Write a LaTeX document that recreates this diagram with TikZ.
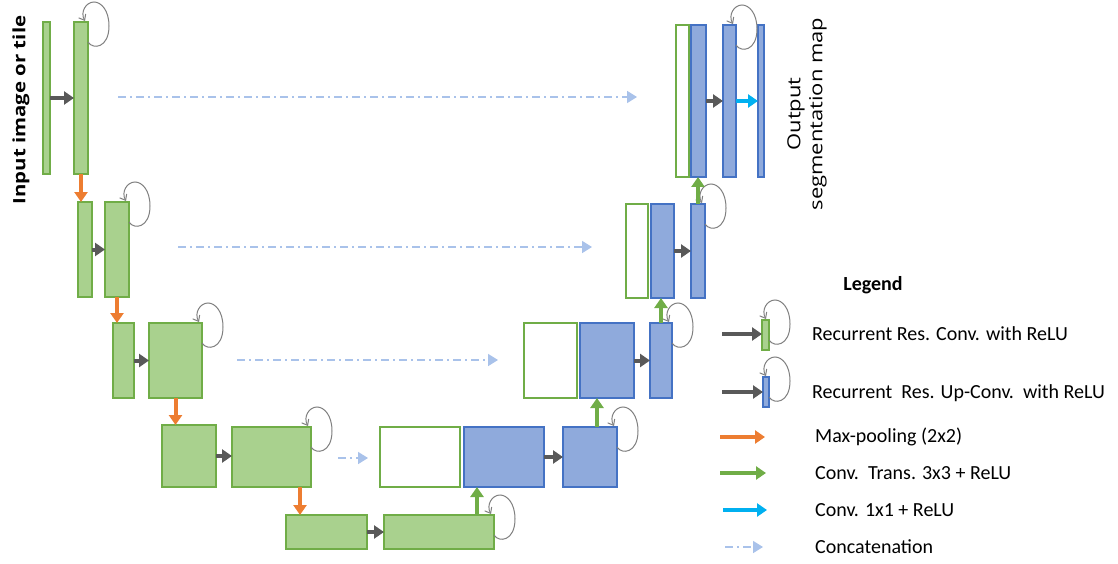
\documentclass[tikz,border=0pt]{standalone}
\usepackage{fontspec}
\setmainfont{Carlito}
\newfontfamily\sidefont{Open Sans}
\usetikzlibrary{arrows.meta,fit,calc}

\definecolor{encfill}{HTML}{A9D18E}
\definecolor{encline}{HTML}{70AD47}
\definecolor{decfill}{HTML}{8FAADC}
\definecolor{decline}{HTML}{4472C4}
\definecolor{convgray}{HTML}{595959}
\definecolor{loopgray}{HTML}{7F7F7F}
\definecolor{poolorange}{HTML}{ED7D31}
\definecolor{transgreen}{HTML}{70AD47}
\definecolor{onecyan}{HTML}{00B0F0}
\definecolor{skipblue}{HTML}{A9C2EA}

% block given by its two corners
\newcommand\blk[6]{\node[#1,fit={(#3,#4) (#5,#6)}] (#2) {};}

\begin{document}
\begin{tikzpicture}[x=1pt,y=-1pt,
  blockbase/.style={inner sep=0pt,outer sep=0pt,line width=1.6pt},
  enc/.style={blockbase,draw=encline,fill=encfill},
  dec/.style={blockbase,draw=decline,fill=decfill},
  skip/.style={blockbase,draw=encline,fill=white},
  thickarrow/.style={line width=4pt,-{Triangle[length=10pt,width=13pt]}},
  convarrow/.style={thickarrow,draw=convgray},
  poolarrow/.style={thickarrow,draw=poolorange},
  uparrow/.style={thickarrow,draw=transgreen},
  onearrow/.style={thickarrow,draw=onecyan},
  concat/.style={draw=skipblue,line width=1.6pt,
    dash pattern=on 8pt off 4pt on 2pt off 4pt,
    -{Triangle[length=10pt,width=12pt,fill=skipblue]}},
  loopline/.style={draw=loopgray,line width=1pt,-{Straight Barb[length=5pt,width=8pt]}},
  selfloop/.pic={\draw[loopline] (0,20) .. controls (5,28) and (21,26) .. (21,4)
      .. controls (21,-12) and (13,-20) .. (6,-20)
      .. controls (-2,-20) and (-8,-10) .. (-3,-1);},
  legtext/.style={anchor=west,font=\fontsize{20}{24}\selectfont,inner sep=0pt}
]
\useasboundingbox (0,0) rectangle (1118,564);

% contracting path
\blk{enc}{in}{43}{22}{50}{174}
\blk{enc}{e1}{74}{22}{88}{174}
\blk{enc}{e2a}{78}{202}{92}{297}
\blk{enc}{e2b}{105}{202}{129}{297}
\blk{enc}{e3a}{113}{323}{134}{398}
\blk{enc}{e3b}{149}{323}{202}{398}
\blk{enc}{e4a}{162}{425}{216}{487}
\blk{enc}{e4b}{232}{427}{311}{487}
\blk{enc}{e5a}{286}{515}{367}{549}
\blk{enc}{e5b}{384}{515}{494}{549}

% expanding path
\blk{skip}{d4w}{380}{427}{460}{487}
\blk{dec}{d4b}{464}{427}{544}{487}
\blk{dec}{d4c}{563}{427}{617}{487}
\blk{skip}{d3w}{524}{323}{577}{398}
\blk{dec}{d3b}{580}{323}{634}{398}
\blk{dec}{d3c}{650}{323}{672}{398}
\blk{skip}{d2w}{626}{204}{648}{298}
\blk{dec}{d2b}{651}{204}{674}{298}
\blk{dec}{d2c}{691}{204}{705}{298}
\blk{skip}{d1w}{676}{25}{689}{177}
\blk{dec}{d1b}{691}{25}{706}{177}
\blk{dec}{d1c}{723}{25}{736}{177}
\blk{dec}{out}{758}{25}{764}{177}

% recurrent convolutions
\foreach \a/\b in {in/e1,e2a/e2b,e3a/e3b,e4a/e4b,e5a/e5b,d4b/d4c,d3b/d3c,d2b/d2c,d1b/d1c}
  \draw[convarrow] (\a.east) -- (\a.east -| \b.west);
\draw[onearrow] (d1c.east) -- (d1c.east -| out.west);

% self loops
\foreach \n in {e1,e2b,e3b,e4b,e5b,d4c,d3c,d2c,d1c}
  \pic at (\n.north east) {selfloop};

% max-pooling
\draw[poolarrow] (e1.south) -- (e1.south |- e2a.north);
\draw[poolarrow] (e2b.south) -- (e2b.south |- e3a.north);
\draw[poolarrow] (e3b.south) -- (e3b.south |- e4a.north);
\coordinate (p4) at ($(e4b.south east)+(-11,0)$);
\draw[poolarrow] (p4) -- (p4 |- e5a.north);

% transposed convolutions
\coordinate (u5) at ($(e5b.north east)+(-17,0)$);
\draw[uparrow] (u5) -- (u5 |- d4b.south);
\coordinate (u4) at ($(d4c.north)+(7,0)$);
\draw[uparrow] (u4) -- (u4 |- d3b.south);
\draw[uparrow] (d3c.north) -- (d3c.north |- d2b.south);
\draw[uparrow] (d2c.north) -- (d2c.north |- d1b.south);

% skip connections
\coordinate (s1a) at (118,97);  \coordinate (s1b) at (637,97);
\coordinate (s2a) at (178,247); \coordinate (s2b) at (592,247);
\coordinate (s3a) at (237,360); \coordinate (s3b) at (498,360);
\coordinate (s4a) at (338,458); \coordinate (s4b) at (368,458);
\foreach \i in {1,2,3,4}
  \draw[concat] (s\i a) -- (s\i b);

% side labels
\node[rotate=90,font=\sidefont\bfseries\fontsize{17}{20}\selectfont,inner sep=0pt] (intext) at (21,110)
  {\scalebox{1.2}[1]{Input image or tile}};
\node[rotate=90,align=center,font=\sidefont\fontsize{18}{22}\selectfont,inner sep=0pt] (outtext) at (807,114)
  {\scalebox{1.22}[1]{Output}\\\scalebox{1.22}[1]{segmentation map}};

% legend
\node[font=\bfseries\fontsize{20}{24}\selectfont] (legtitle) at (873,285) {Legend};

\blk{enc}{lg1}{762}{320}{769}{350}
\coordinate (l1s) at (722,334);
\draw[convarrow] (l1s) -- (l1s -| lg1.west);
\pic at (lg1.north east) {selfloop};
\node[legtext] (t1) at (812,334) {Recurrent Res. Conv. with ReLU};

\blk{dec}{lg2}{763}{377}{769}{407}
\coordinate (l2s) at (722,392);
\draw[convarrow] (l2s) -- (l2s -| lg2.west);
\pic at (lg2.north east) {selfloop};
\node[legtext] (t2) at (812,393) {Recurrent\ \ Res. Up-Conv.\ \ with ReLU};

\coordinate (l3s) at (720,437); \coordinate (l3e) at (765,437);
\draw[poolarrow] (l3s) -- (l3e);
\node[legtext] (t3) at (815,437) {Max-pooling (2x2)};

\coordinate (l4s) at (720,473); \coordinate (l4e) at (766,473);
\draw[uparrow] (l4s) -- (l4e);
\node[legtext] (t4) at (815,473) {Conv.\ \ Trans. 3x3 + ReLU};

\coordinate (l5s) at (723,510); \coordinate (l5e) at (767,510);
\draw[onearrow] (l5s) -- (l5e);
\node[legtext] (t5) at (815,510) {Conv. 1x1 + ReLU};

\coordinate (l6s) at (725,547); \coordinate (l6e) at (763,547);
\draw[concat] (l6s) -- (l6e);
\node[legtext] (t6) at (815,547) {Concatenation};
\end{tikzpicture}
\end{document}
